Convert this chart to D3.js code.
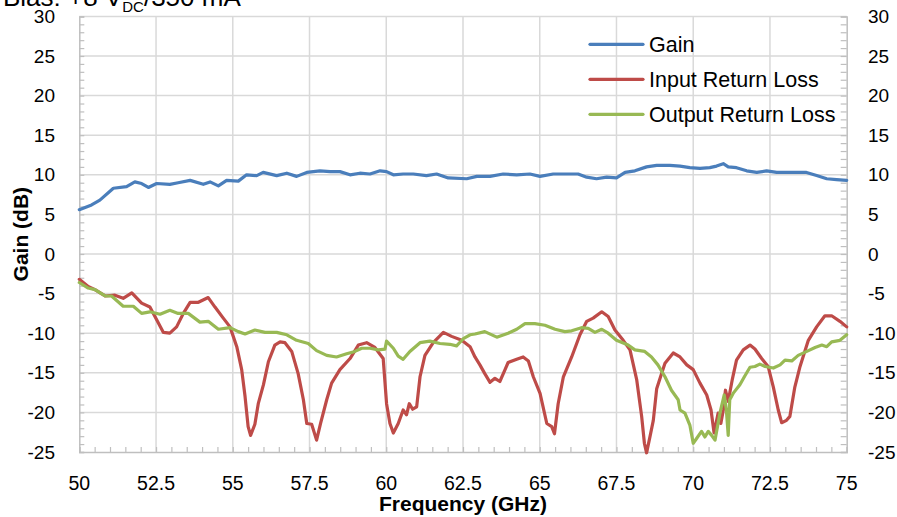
<!DOCTYPE html>
<html>
<head>
<meta charset="utf-8">
<script src="https://cdn.jsdelivr.net/npm/d3@7"></script>
<style>
  body { margin: 0; background: #fff; }
  svg { display: block; font-family: "Liberation Sans", Arial, sans-serif; }
</style>
</head>
<body>
<script>
// Gain (dB) vs frequency (GHz)
var gainFreq = [50.0, 50.4, 50.67, 51.11, 51.54, 51.81, 52.03, 52.25, 52.52, 52.95, 53.22, 53.61, 54.04, 54.26, 54.53, 54.8, 55.18, 55.45, 55.78, 55.99, 56.43, 56.76, 57.08, 57.41, 57.84, 58.17, 58.49, 58.82, 59.14, 59.47, 59.8, 60.01, 60.23, 60.55, 60.88, 61.31, 61.64, 62.02, 62.62, 62.95, 63.38, 63.81, 64.25, 64.68, 65.01, 65.44, 65.88, 66.25, 66.53, 66.85, 67.18, 67.5, 67.78, 68.1, 68.48, 68.81, 69.24, 69.57, 69.89, 70.22, 70.54, 70.76, 70.98, 71.14, 71.41, 71.74, 72.07, 72.39, 72.72, 73.04, 73.48, 73.69, 74.02, 74.35, 74.67, 75.0];
var gainDb = [5.6, 6.2, 6.8, 8.3, 8.5, 9.1, 8.9, 8.4, 8.9, 8.8, 9.0, 9.3, 8.8, 9.1, 8.6, 9.3, 9.2, 10.0, 9.9, 10.3, 9.9, 10.2, 9.8, 10.3, 10.5, 10.4, 10.4, 10.0, 10.2, 10.1, 10.5, 10.4, 10.0, 10.1, 10.1, 9.9, 10.1, 9.6, 9.5, 9.8, 9.8, 10.1, 10.0, 10.1, 9.8, 10.1, 10.1, 10.1, 9.7, 9.5, 9.7, 9.6, 10.3, 10.5, 11.0, 11.2, 11.2, 11.1, 10.9, 10.8, 10.9, 11.1, 11.4, 11.0, 10.9, 10.5, 10.3, 10.5, 10.3, 10.3, 10.3, 10.3, 9.9, 9.5, 9.4, 9.3];

// Input return loss
var irlFreq = [50.0, 50.29, 50.51, 50.84, 51.16, 51.43, 51.71, 52.03, 52.3, 52.52, 52.74, 52.95, 53.17, 53.39, 53.61, 53.88, 54.2, 54.42, 54.69, 54.91, 55.13, 55.29, 55.4, 55.5, 55.58, 55.72, 55.83, 56.0, 56.16, 56.37, 56.54, 56.7, 56.92, 57.13, 57.3, 57.41, 57.57, 57.73, 57.86, 58.06, 58.22, 58.49, 58.82, 59.09, 59.36, 59.63, 59.9, 60.01, 60.12, 60.23, 60.39, 60.55, 60.66, 60.75, 60.86, 60.99, 61.1, 61.26, 61.53, 61.86, 62.13, 62.46, 62.73, 62.89, 63.05, 63.21, 63.38, 63.54, 63.7, 63.87, 63.97, 64.25, 64.46, 64.63, 64.79, 65.01, 65.23, 65.39, 65.48, 65.6, 65.77, 66.04, 66.31, 66.53, 66.74, 67.02, 67.23, 67.45, 67.72, 67.94, 68.16, 68.32, 68.41, 68.48, 68.59, 68.7, 68.81, 68.97, 69.08, 69.35, 69.57, 69.79, 70.0, 70.22, 70.44, 70.58, 70.68, 70.81, 70.9, 70.98, 71.05, 71.14, 71.27, 71.41, 71.63, 71.85, 72.01, 72.23, 72.44, 72.61, 72.77, 72.88, 73.04, 73.15, 73.31, 73.48, 73.75, 74.02, 74.29, 74.51, 74.78, 75.0];
var irlDb = [-3.2, -4.1, -4.5, -5.3, -5.2, -5.6, -4.9, -6.2, -6.7, -8.3, -9.9, -10.0, -9.2, -7.5, -6.1, -6.1, -5.5, -6.7, -8.1, -9.2, -11.7, -14.6, -18.0, -21.8, -22.9, -21.5, -18.9, -16.5, -13.6, -11.5, -11.1, -11.2, -12.3, -15.1, -18.4, -21.4, -21.5, -23.5, -21.4, -18.4, -16.3, -14.6, -13.2, -11.5, -11.2, -11.8, -13.2, -18.9, -21.4, -22.6, -21.4, -19.7, -20.3, -18.9, -19.6, -19.3, -15.5, -12.8, -11.2, -9.9, -10.4, -10.9, -11.7, -13.0, -14.0, -15.1, -16.2, -15.7, -16.1, -14.6, -13.7, -13.3, -13.0, -13.5, -15.5, -17.6, -21.4, -21.8, -22.7, -18.9, -15.5, -13.0, -10.2, -8.5, -8.1, -7.3, -7.9, -9.6, -10.9, -12.1, -15.9, -20.5, -23.9, -25.1, -23.1, -21.0, -17.0, -15.1, -13.8, -12.5, -13.0, -14.0, -14.6, -16.3, -17.8, -19.7, -22.6, -20.1, -21.4, -19.7, -17.2, -18.6, -15.9, -13.4, -12.1, -11.5, -12.0, -13.2, -14.2, -16.8, -19.7, -21.3, -21.0, -20.5, -16.8, -14.2, -10.9, -9.2, -7.8, -7.8, -8.5, -9.2];

// Output return loss
var orlFreq = [50.0, 50.29, 50.51, 50.84, 51.05, 51.43, 51.76, 52.03, 52.3, 52.63, 52.95, 53.22, 53.55, 53.93, 54.2, 54.53, 54.91, 55.18, 55.4, 55.72, 56.05, 56.43, 56.76, 57.08, 57.46, 57.73, 58.06, 58.38, 58.71, 58.98, 59.2, 59.47, 59.74, 59.96, 60.01, 60.23, 60.39, 60.55, 60.77, 61.1, 61.42, 61.75, 62.07, 62.29, 62.51, 62.73, 62.89, 63.21, 63.6, 63.97, 64.25, 64.52, 64.84, 65.17, 65.5, 65.82, 66.04, 66.36, 66.58, 66.8, 67.02, 67.23, 67.5, 67.88, 68.1, 68.42, 68.64, 68.85, 69.08, 69.29, 69.51, 69.57, 69.73, 69.89, 70.0, 70.11, 70.27, 70.38, 70.49, 70.6, 70.71, 70.87, 71.01, 71.08, 71.14, 71.19, 71.3, 71.52, 71.68, 71.85, 72.01, 72.17, 72.34, 72.61, 72.83, 72.99, 73.21, 73.42, 73.7, 73.97, 74.19, 74.35, 74.51, 74.78, 75.0];
var orlDb = [-3.6, -4.3, -4.5, -5.3, -5.3, -6.6, -6.6, -7.5, -7.3, -7.6, -7.1, -7.5, -7.5, -8.6, -8.5, -9.5, -9.3, -9.8, -10.1, -9.6, -9.9, -9.9, -10.2, -10.9, -11.3, -12.2, -12.8, -13.0, -12.6, -12.3, -11.9, -11.9, -12.1, -12.0, -11.0, -11.9, -12.9, -13.3, -12.3, -11.2, -11.0, -11.3, -11.4, -11.6, -10.7, -10.2, -10.1, -9.8, -10.5, -10.0, -9.5, -8.8, -8.8, -9.0, -9.5, -9.8, -9.7, -9.3, -9.4, -9.9, -9.5, -10.0, -10.9, -11.5, -12.1, -12.3, -13.0, -14.0, -15.5, -17.2, -18.4, -19.7, -20.1, -21.6, -23.9, -23.3, -22.4, -23.1, -22.4, -22.9, -23.5, -20.1, -17.8, -19.7, -22.9, -18.4, -17.6, -16.5, -15.4, -14.3, -14.2, -13.9, -14.2, -14.4, -14.0, -13.4, -13.5, -12.8, -12.3, -11.8, -11.5, -11.7, -11.1, -10.9, -10.2];

var xTicks = [50, 52.5, 55, 57.5, 60, 62.5, 65, 67.5, 70, 72.5, 75];
var yTicks = [-25, -20, -15, -10, -5, 0, 5, 10, 15, 20, 25, 30];
var seriesNames = ["Gain", "Input Return Loss", "Output Return Loss"];
var seriesColors = ["#4a7ebb", "#be4b48", "#98b954"];

var W = 897, H = 517;
var plot = {left: 79.3, right: 846.7, top: 16.4, bottom: 452};

var svg = d3.select("body").append("svg")
    .attr("width", W)
    .attr("height", H);

var x = d3.scaleLinear().domain([50, 75]).range([plot.left, plot.right]);
var y = d3.scaleLinear().domain([-25, 30]).range([plot.bottom, plot.top]);

// gridlines
svg.append("g").selectAll("line.hgrid")
    .data(yTicks.filter(function(d) { return d > -25; }))
  .enter().append("line")
    .attr("x1", plot.left).attr("x2", plot.right)
    .attr("y1", function(d) { return y(d); })
    .attr("y2", function(d) { return y(d); })
    .attr("stroke", "#d9d9d9").attr("stroke-width", 1.5);

svg.append("g").selectAll("line.vgrid")
    .data(xTicks.filter(function(d) { return d > 50 && d < 75; }))
  .enter().append("line")
    .attr("x1", function(d) { return x(d); })
    .attr("x2", function(d) { return x(d); })
    .attr("y1", plot.top).attr("y2", plot.bottom)
    .attr("stroke", "#d9d9d9").attr("stroke-width", 1.5);

// axis lines with minor ticks (inside)
var axisCol = "#bfbfbf";
function styleAxis(g) {
  g.select(".domain").attr("stroke", axisCol).attr("stroke-width", 1.5);
  g.selectAll(".tick line").attr("stroke", axisCol).attr("stroke-width", 1.2);
}

svg.append("g").attr("transform", "translate(" + plot.left + ",0)")
    .call(d3.axisRight(y).tickValues(d3.range(-25, 31, 1)).tickSize(5).tickFormat(""))
    .call(styleAxis);

svg.append("g").attr("transform", "translate(" + plot.right + ",0)")
    .call(d3.axisLeft(y).tickValues(d3.range(-25, 31, 1)).tickSize(6).tickFormat(""))
    .call(styleAxis);

svg.append("g").attr("transform", "translate(0," + plot.bottom + ")")
    .call(d3.axisTop(x).tickValues(d3.range(50, 75.01, 0.5)).tickSize(5).tickFormat(""))
    .call(styleAxis);

// tick labels
svg.append("g").selectAll("text")
    .data(yTicks)
  .enter().append("text")
    .attr("x", 55).attr("y", function(d) { return y(d); })
    .attr("dy", "0.35em")
    .attr("text-anchor", "end")
    .style("font-size", "19px").attr("fill", "#000")
    .text(function(d) { return d; });

svg.append("g").selectAll("text")
    .data(yTicks)
  .enter().append("text")
    .attr("x", 868).attr("y", function(d) { return y(d); })
    .attr("dy", "0.35em")
    .attr("text-anchor", "start")
    .style("font-size", "19px").attr("fill", "#000")
    .text(function(d) { return d; });

svg.append("g").selectAll("text")
    .data(xTicks)
  .enter().append("text")
    .attr("x", function(d) { return x(d); }).attr("y", 490)
    .attr("text-anchor", "middle")
    .style("font-size", "19.5px").attr("fill", "#000")
    .text(function(d) { return d; });

// axis titles
svg.append("text")
    .attr("x", 463).attr("y", 511)
    .attr("text-anchor", "middle")
    .style("font-size", "21px").style("font-weight", "bold")
    .text("Frequency (GHz)");

svg.append("text")
    .attr("transform", "translate(28," + ((plot.top + plot.bottom) / 2) + ") rotate(-90)")
    .attr("text-anchor", "middle")
    .style("font-size", "21px").style("font-weight", "bold")
    .text("Gain (dB)");

// title, cut at top of the frame
var title = svg.append("text").attr("x", 3).attr("y", 6).style("font-size", "26px");
title.append("tspan").text("Bias: +8 V");
title.append("tspan").attr("dy", 6).style("font-size", "15px").text("DC");
title.append("tspan").attr("dy", -6).text("/350 mA");

// series
var line = d3.line()
    .x(function(d) { return x(d[0]); })
    .y(function(d) { return y(d[1]); });

var series = [
  d3.zip(gainFreq, gainDb),
  d3.zip(irlFreq, irlDb),
  d3.zip(orlFreq, orlDb)
];

svg.append("g").selectAll("path")
    .data(series)
  .enter().append("path")
    .attr("d", line)
    .attr("fill", "none")
    .attr("stroke", function(d, i) { return seriesColors[i]; })
    .attr("stroke-width", 3.2)
    .attr("stroke-linejoin", "round")
    .attr("stroke-linecap", "round");

// legend
var legend = svg.append("g").selectAll("g")
    .data(seriesNames)
  .enter().append("g")
    .attr("transform", function(d, i) { return "translate(590," + (44.3 + i * 35) + ")"; });

legend.append("line")
    .attr("x1", 0).attr("x2", 53)
    .attr("stroke", function(d, i) { return seriesColors[i]; })
    .attr("stroke-width", 3.2)
    .attr("stroke-linecap", "round");

legend.append("text")
    .attr("x", 59).attr("dy", "0.35em")
    .style("font-size", "21.5px")
    .text(function(d) { return d; });
</script>
</body>
</html>
